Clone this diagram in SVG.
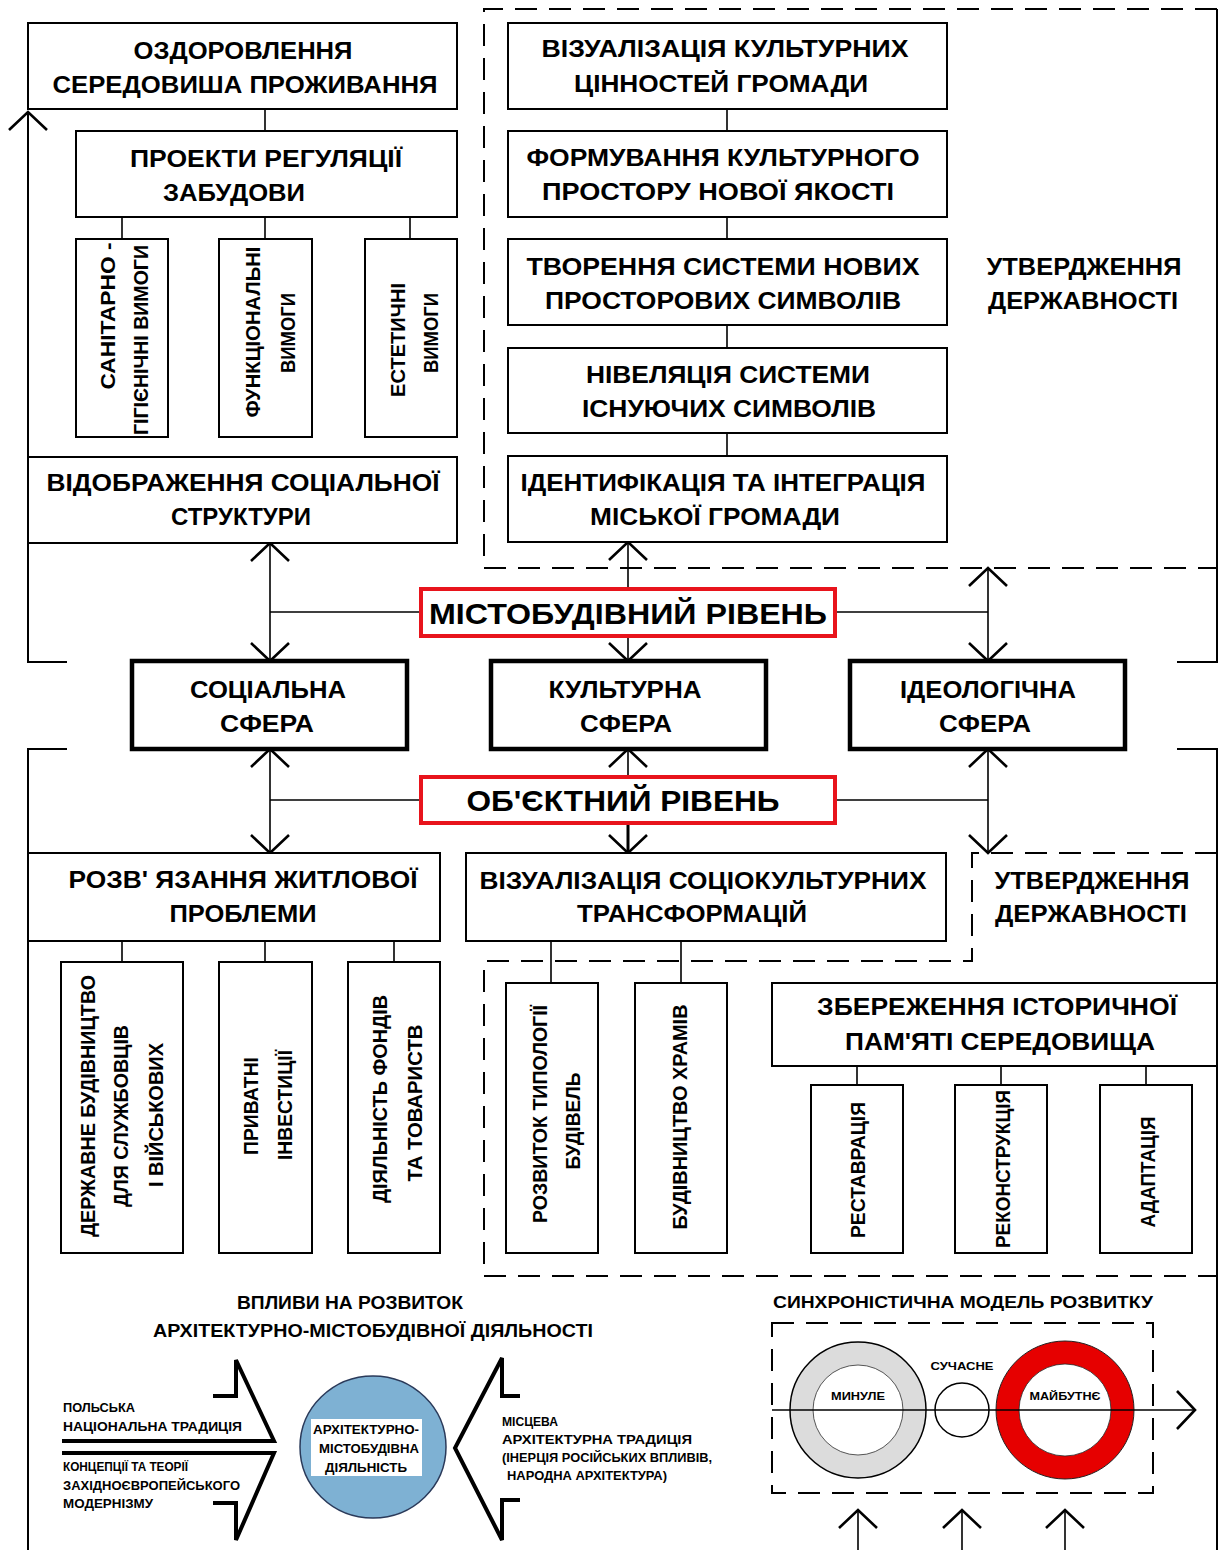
<svg xmlns="http://www.w3.org/2000/svg" width="1223" height="1550" viewBox="0 0 1223 1550">
<defs>
<marker id="ah" viewBox="0 0 24 44" refX="21" refY="22" markerWidth="24" markerHeight="44" markerUnits="userSpaceOnUse" orient="auto-start-reverse">
<path d="M3,3 L21,22 L3,41" fill="none" stroke="#000" stroke-width="2.6"/>
</marker>
<style>
.box{fill:#fff;stroke:#000;stroke-width:2}
.sph{fill:#fff;stroke:#000;stroke-width:4.5}
.red{fill:#fff;stroke:#e8141c;stroke-width:4}
.ln{fill:none;stroke:#000;stroke-width:1.6}
.out{fill:none;stroke:#000;stroke-width:2}
.dash{fill:none;stroke:#000;stroke-width:2;stroke-dasharray:22 12}
.big{fill:none;stroke:#000;stroke-width:4;stroke-linejoin:miter}
text{font-family:"Liberation Sans",Arial,sans-serif;font-weight:bold;fill:#000}
.c{text-anchor:middle;font-size:24px}
.r{text-anchor:middle;font-size:21px}
.lv{text-anchor:middle;font-size:30px}
.sm{text-anchor:start;font-size:12.5px}
.h{text-anchor:middle;font-size:18px}
.cs{text-anchor:middle;font-size:12px}
</style>
</defs>

<g id="connectors">
<path class="out" d="M67,662 H28 V112" marker-end="url(#ah)"/>
<path class="out" d="M67,749 H28 V1550"/>
<path class="out" d="M1177,662 H1217 V9"/>
<path class="out" d="M1177,749 H1217 V1550"/>
<path class="dash" d="M1217,9 H484 V568 H1217"/>
<path class="dash" d="M1217,853 H972 V961 H484 V1276 H1217"/>
<path class="ln" d="M265,109 V131 M122,217 V239 M265,217 V239 M410,217 V239"/>
<path class="ln" d="M727,109 V131 M727,217 V239 M727,325 V348 M727,433 V456"/>
<path class="ln" d="M270,543 V661" marker-start="url(#ah)" marker-end="url(#ah)"/>
<path class="ln" d="M270,612 H421 M835,612 H988"/>
<path class="ln" d="M628,542 V589" marker-start="url(#ah)"/>
<path class="ln" d="M628,636 V661" marker-end="url(#ah)"/>
<path class="ln" d="M988,568 V661" marker-start="url(#ah)" marker-end="url(#ah)"/>
<path class="ln" d="M270,749 V853" marker-start="url(#ah)" marker-end="url(#ah)"/>
<path class="ln" d="M270,800 H421 M835,800 H988"/>
<path class="ln" d="M628,749 V776" marker-start="url(#ah)"/>
<path class="ln" d="M628,824 V853" style="stroke-width:3" marker-end="url(#ah)"/>
<path class="ln" d="M988,749 V853" marker-start="url(#ah)" marker-end="url(#ah)"/>
<path class="ln" d="M122,941 V962 M265,941 V962 M394,941 V962"/>
<path class="ln" d="M551,941 V983 M681,941 V983"/>
<path class="ln" d="M857,1066 V1085 M1001,1066 V1085 M1146,1066 V1085"/>
</g>

<g id="n-ozdorovlennia">
<rect class="box" x="28" y="23" width="429" height="86"/>
<text class="c" x="243" y="59" textLength="219" lengthAdjust="spacingAndGlyphs">ОЗДОРОВЛЕННЯ</text>
<text class="c" x="245" y="93" textLength="385" lengthAdjust="spacingAndGlyphs">СЕРЕДОВИША ПРОЖИВАННЯ</text>
</g>
<g id="n-proekty">
<rect class="box" x="76" y="131" width="381" height="86"/>
<text class="c" x="266" y="167" textLength="272" lengthAdjust="spacingAndGlyphs">ПРОЕКТИ  РЕГУЛЯЦІЇ</text>
<text class="c" x="234" y="201" textLength="142" lengthAdjust="spacingAndGlyphs">ЗАБУДОВИ</text>
</g>
<g id="n-sanitarni">
<rect class="box" x="76" y="239" width="92" height="198"/>
<text class="r" transform="translate(115,316) rotate(-90)" textLength="147" lengthAdjust="spacingAndGlyphs">САНІТАРНО -</text>
<text class="r" transform="translate(148,340) rotate(-90)" textLength="190" lengthAdjust="spacingAndGlyphs">ГІГІЄНІЧНІ ВИМОГИ</text>
</g>
<g id="n-funktsionalni">
<rect class="box" x="219" y="239" width="93" height="198"/>
<text class="r" transform="translate(260,332) rotate(-90)" textLength="171" lengthAdjust="spacingAndGlyphs">ФУНКЦІОНАЛЬНІ</text>
<text class="r" transform="translate(295,333) rotate(-90)" textLength="80" lengthAdjust="spacingAndGlyphs">ВИМОГИ</text>
</g>
<g id="n-estetychni">
<rect class="box" x="365" y="239" width="92" height="198"/>
<text class="r" transform="translate(405,340) rotate(-90)" textLength="114" lengthAdjust="spacingAndGlyphs">ЕСТЕТИЧНІ</text>
<text class="r" transform="translate(438,333) rotate(-90)" textLength="80" lengthAdjust="spacingAndGlyphs">ВИМОГИ</text>
</g>
<g id="n-vidobrazhennia">
<rect class="box" x="28" y="457" width="429" height="86"/>
<text class="c" x="243" y="491" textLength="393" lengthAdjust="spacingAndGlyphs">ВІДОБРАЖЕННЯ  СОЦІАЛЬНОЇ</text>
<text class="c" x="241" y="525" textLength="140" lengthAdjust="spacingAndGlyphs">СТРУКТУРИ</text>
</g>

<g id="n-vizualizatsiia-kult">
<rect class="box" x="508" y="23" width="439" height="86"/>
<text class="c" x="725" y="57" textLength="367" lengthAdjust="spacingAndGlyphs">ВІЗУАЛІЗАЦІЯ  КУЛЬТУРНИХ</text>
<text class="c" x="721" y="92" textLength="294" lengthAdjust="spacingAndGlyphs">ЦІННОСТЕЙ  ГРОМАДИ</text>
</g>
<g id="n-formuvannia">
<rect class="box" x="508" y="131" width="439" height="86"/>
<text class="c" x="723" y="166" textLength="393" lengthAdjust="spacingAndGlyphs">ФОРМУВАННЯ  КУЛЬТУРНОГО</text>
<text class="c" x="718" y="200" textLength="352" lengthAdjust="spacingAndGlyphs">ПРОСТОРУ  НОВОЇ  ЯКОСТІ</text>
</g>
<g id="n-tvorennia">
<rect class="box" x="508" y="239" width="439" height="86"/>
<text class="c" x="723" y="275" textLength="393" lengthAdjust="spacingAndGlyphs">ТВОРЕННЯ  СИСТЕМИ  НОВИХ</text>
<text class="c" x="723" y="309" textLength="356" lengthAdjust="spacingAndGlyphs">ПРОСТОРОВИХ  СИМВОЛІВ</text>
</g>
<g id="n-niveliatsiia">
<rect class="box" x="508" y="348" width="439" height="85"/>
<text class="c" x="728" y="383" textLength="284" lengthAdjust="spacingAndGlyphs">НІВЕЛЯЦІЯ  СИСТЕМИ</text>
<text class="c" x="729" y="417" textLength="294" lengthAdjust="spacingAndGlyphs">ІСНУЮЧИХ  СИМВОЛІВ</text>
</g>
<g id="n-identyfikatsiia">
<rect class="box" x="508" y="456" width="439" height="86"/>
<text class="c" x="723" y="491" textLength="405" lengthAdjust="spacingAndGlyphs">ІДЕНТИФІКАЦІЯ ТА ІНТЕГРАЦІЯ</text>
<text class="c" x="715" y="525" textLength="250" lengthAdjust="spacingAndGlyphs">МІСЬКОЇ  ГРОМАДИ</text>
</g>
<g id="n-utverdzhennia-top">
<text class="c" x="1084" y="275" textLength="195" lengthAdjust="spacingAndGlyphs">УТВЕРДЖЕННЯ</text>
<text class="c" x="1083" y="309" textLength="190" lengthAdjust="spacingAndGlyphs">ДЕРЖАВНОСТІ</text>
</g>

<g id="n-mistobudivnyi">
<rect class="red" x="421" y="589" width="414" height="47"/>
<text class="lv" x="628" y="624" textLength="398" lengthAdjust="spacingAndGlyphs">МІСТОБУДІВНИЙ  РІВЕНЬ</text>
</g>
<g id="n-sotsialna">
<rect class="sph" x="132" y="661" width="275" height="88"/>
<text class="c" x="268" y="698" textLength="156" lengthAdjust="spacingAndGlyphs">СОЦІАЛЬНА</text>
<text class="c" x="267" y="732" textLength="94" lengthAdjust="spacingAndGlyphs">СФЕРА</text>
</g>
<g id="n-kulturna">
<rect class="sph" x="491" y="661" width="275" height="88"/>
<text class="c" x="625" y="698" textLength="153" lengthAdjust="spacingAndGlyphs">КУЛЬТУРНА</text>
<text class="c" x="626" y="732" textLength="92" lengthAdjust="spacingAndGlyphs">СФЕРА</text>
</g>
<g id="n-ideolohichna">
<rect class="sph" x="850" y="661" width="275" height="88"/>
<text class="c" x="988" y="698" textLength="176" lengthAdjust="spacingAndGlyphs">ІДЕОЛОГІЧНА</text>
<text class="c" x="985" y="732" textLength="92" lengthAdjust="spacingAndGlyphs">СФЕРА</text>
</g>
<g id="n-obiektnyi">
<rect class="red" x="421" y="777" width="414" height="46"/>
<text class="lv" x="623" y="811" textLength="313" lengthAdjust="spacingAndGlyphs">ОБ'ЄКТНИЙ  РІВЕНЬ</text>
</g>

<g id="n-rozviazannia">
<rect class="box" x="28" y="853" width="412" height="88"/>
<text class="c" x="243" y="888" textLength="349" lengthAdjust="spacingAndGlyphs">РОЗВ' ЯЗАННЯ  ЖИТЛОВОЇ</text>
<text class="c" x="243" y="922" textLength="147" lengthAdjust="spacingAndGlyphs">ПРОБЛЕМИ</text>
</g>
<g id="n-derzhavne">
<rect class="box" x="61" y="962" width="122" height="291"/>
<text class="r" transform="translate(95,1106) rotate(-90)" textLength="262" lengthAdjust="spacingAndGlyphs">ДЕРЖАВНЕ  БУДІВНИЦТВО</text>
<text class="r" transform="translate(128,1116) rotate(-90)" textLength="182" lengthAdjust="spacingAndGlyphs">ДЛЯ  СЛУЖБОВЦІВ</text>
<text class="r" transform="translate(163,1115) rotate(-90)" textLength="144" lengthAdjust="spacingAndGlyphs">І  ВІЙСЬКОВИХ</text>
</g>
<g id="n-pryvatni">
<rect class="box" x="219" y="962" width="93" height="291"/>
<text class="r" transform="translate(258,1106) rotate(-90)" textLength="98" lengthAdjust="spacingAndGlyphs">ПРИВАТНІ</text>
<text class="r" transform="translate(292,1105) rotate(-90)" textLength="110" lengthAdjust="spacingAndGlyphs">ІНВЕСТИЦІЇ</text>
</g>
<g id="n-diialnist">
<rect class="box" x="348" y="962" width="92" height="291"/>
<text class="r" transform="translate(387,1099) rotate(-90)" textLength="208" lengthAdjust="spacingAndGlyphs">ДІЯЛЬНІСТЬ  ФОНДІВ</text>
<text class="r" transform="translate(422,1103) rotate(-90)" textLength="157" lengthAdjust="spacingAndGlyphs">ТА  ТОВАРИСТВ</text>
</g>

<g id="n-vizualizatsiia-sots">
<rect class="box" x="466" y="853" width="480" height="88"/>
<text class="c" x="703" y="889" textLength="447" lengthAdjust="spacingAndGlyphs">ВІЗУАЛІЗАЦІЯ  СОЦІОКУЛЬТУРНИХ</text>
<text class="c" x="692" y="922" textLength="230" lengthAdjust="spacingAndGlyphs">ТРАНСФОРМАЦІЙ</text>
</g>
<g id="n-utverdzhennia-bottom">
<text class="c" x="1092" y="889" textLength="195" lengthAdjust="spacingAndGlyphs">УТВЕРДЖЕННЯ</text>
<text class="c" x="1091" y="922" textLength="192" lengthAdjust="spacingAndGlyphs">ДЕРЖАВНОСТІ</text>
</g>
<g id="n-rozvytok">
<rect class="box" x="506" y="983" width="92" height="270"/>
<text class="r" transform="translate(547,1114) rotate(-90)" textLength="218" lengthAdjust="spacingAndGlyphs">РОЗВИТОК  ТИПОЛОГІЇ</text>
<text class="r" transform="translate(580,1121) rotate(-90)" textLength="97" lengthAdjust="spacingAndGlyphs">БУДІВЕЛЬ</text>
</g>
<g id="n-khramy">
<rect class="box" x="635" y="983" width="92" height="270"/>
<text class="r" transform="translate(687,1117) rotate(-90)" textLength="225" lengthAdjust="spacingAndGlyphs">БУДІВНИЦТВО  ХРАМІВ</text>
</g>
<g id="n-zberezhennia">
<rect class="box" x="772" y="983" width="445" height="83"/>
<text class="c" x="997" y="1015" textLength="360" lengthAdjust="spacingAndGlyphs">ЗБЕРЕЖЕННЯ  ІСТОРИЧНОЇ</text>
<text class="c" x="1000" y="1050" textLength="310" lengthAdjust="spacingAndGlyphs">ПАМ'ЯТІ  СЕРЕДОВИЩА</text>
</g>
<g id="n-restavratsiia">
<rect class="box" x="811" y="1085" width="92" height="168"/>
<text class="r" transform="translate(865,1170) rotate(-90)" textLength="136" lengthAdjust="spacingAndGlyphs">РЕСТАВРАЦІЯ</text>
</g>
<g id="n-rekonstruktsiia">
<rect class="box" x="955" y="1085" width="92" height="168"/>
<text class="r" transform="translate(1010,1169) rotate(-90)" textLength="158" lengthAdjust="spacingAndGlyphs">РЕКОНСТРУКЦІЯ</text>
</g>
<g id="n-adaptatsiia">
<rect class="box" x="1100" y="1085" width="92" height="168"/>
<text class="r" transform="translate(1155,1172) rotate(-90)" textLength="111" lengthAdjust="spacingAndGlyphs">АДАПТАЦІЯ</text>
</g>

<g id="n-vplyvy">
<text class="h" x="350" y="1309" textLength="226" lengthAdjust="spacingAndGlyphs">ВПЛИВИ НА РОЗВИТОК</text>
<text class="h" x="373" y="1337" textLength="440" lengthAdjust="spacingAndGlyphs">АРХІТЕКТУРНО-МІСТОБУДІВНОЇ  ДІЯЛЬНОСТІ</text>
<path class="big" d="M62,1441 H274 L236,1360 V1396 H213"/>
<path class="big" d="M62,1453 H274 L236,1540 V1503 H213"/>
<path class="big" d="M520,1396 H502 V1358 L455,1448 L502,1540 V1500 H520"/>
<text class="sm" x="63" y="1412" textLength="72" lengthAdjust="spacingAndGlyphs">ПОЛЬСЬКА</text>
<text class="sm" x="63" y="1431" textLength="179" lengthAdjust="spacingAndGlyphs">НАЦІОНАЛЬНА  ТРАДИЦІЯ</text>
<text class="sm" x="63" y="1471" textLength="125" lengthAdjust="spacingAndGlyphs">КОНЦЕПЦІЇ ТА ТЕОРІЇ</text>
<text class="sm" x="63" y="1490" textLength="177" lengthAdjust="spacingAndGlyphs">ЗАХІДНОЄВРОПЕЙСЬКОГО</text>
<text class="sm" x="63" y="1508" textLength="90" lengthAdjust="spacingAndGlyphs">МОДЕРНІЗМУ</text>
<text class="sm" x="502" y="1426" textLength="56" lengthAdjust="spacingAndGlyphs">МІСЦЕВА</text>
<text class="sm" x="502" y="1444" textLength="190" lengthAdjust="spacingAndGlyphs">АРХІТЕКТУРНА  ТРАДИЦІЯ</text>
<text class="sm" x="502" y="1462" textLength="210" lengthAdjust="spacingAndGlyphs">(ІНЕРЦІЯ РОСІЙСЬКИХ ВПЛИВІВ,</text>
<text class="sm" x="507" y="1480" textLength="160" lengthAdjust="spacingAndGlyphs">НАРОДНА  АРХІТЕКТУРА)</text>
</g>
<g id="n-diialnist-circle">
<ellipse cx="373" cy="1447" rx="73" ry="71" fill="#7eb1d3" stroke="#2a3a5a" stroke-width="1.5"/>
<rect x="311" y="1419" width="111" height="57" fill="#fff"/>
<text class="cs" x="366" y="1434" textLength="106" lengthAdjust="spacingAndGlyphs">АРХІТЕКТУРНО-</text>
<text class="cs" x="369" y="1453" textLength="100" lengthAdjust="spacingAndGlyphs">МІСТОБУДІВНА</text>
<text class="cs" x="366" y="1472" textLength="82" lengthAdjust="spacingAndGlyphs">ДІЯЛЬНІСТЬ</text>
</g>

<g id="n-synkhron">
<text class="h" x="963" y="1308" style="font-size:17px" textLength="380" lengthAdjust="spacingAndGlyphs">СИНХРОНІСТИЧНА  МОДЕЛЬ  РОЗВИТКУ</text>
<rect class="dash" x="772" y="1323" width="381" height="170"/>
<circle cx="858" cy="1410" r="68" fill="#dcdcdc" stroke="#000" stroke-width="1.5"/>
<circle cx="858" cy="1410" r="45" fill="#fff" stroke="#555" stroke-width="1"/>
<circle cx="962" cy="1410" r="27" fill="#fff" stroke="#000" stroke-width="1.5"/>
<circle cx="1065" cy="1410" r="69" fill="#e60000" stroke="#222" stroke-width="1"/>
<circle cx="1065" cy="1410" r="46" fill="#fff" stroke="#222" stroke-width="0.8"/>
<text class="cs" x="962" y="1370" style="font-size:11px" textLength="63" lengthAdjust="spacingAndGlyphs">СУЧАСНЕ</text>
<text class="cs" x="858" y="1400" style="font-size:11px" textLength="54" lengthAdjust="spacingAndGlyphs">МИНУЛЕ</text>
<text class="cs" x="1065" y="1400" style="font-size:11px" textLength="71" lengthAdjust="spacingAndGlyphs">МАЙБУТНЄ</text>
<path class="ln" d="M772,1410 H1195" marker-end="url(#ah)"/>
<path class="ln" d="M858,1550 V1510" marker-end="url(#ah)"/>
<path class="ln" d="M962,1550 V1510" marker-end="url(#ah)"/>
<path class="ln" d="M1065,1550 V1510" marker-end="url(#ah)"/>
</g>
</svg>
